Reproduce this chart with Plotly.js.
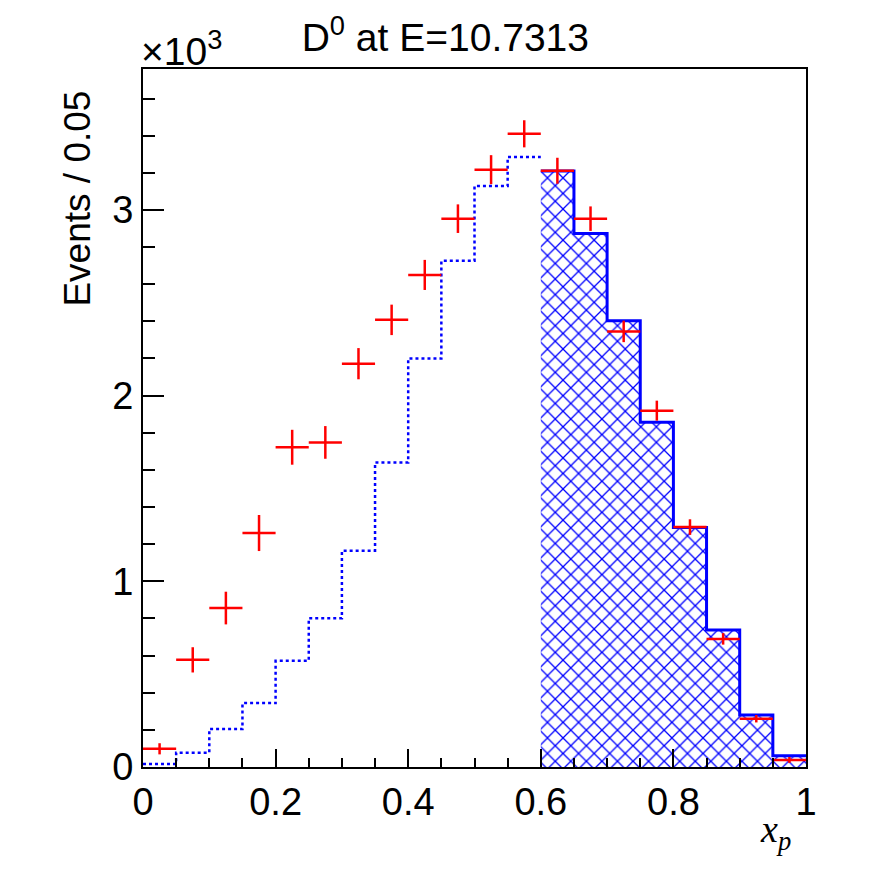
<!DOCTYPE html>
<html>
<head>
<meta charset="utf-8">
<script src="https://cdn.plot.ly/plotly-3.0.1.min.js"></script>
<style>html,body{margin:0;padding:0;background:#fff;}#plot{width:896px;height:872px;}</style>
</head>
<body>
<div id="plot"></div>
<script>
// ---- data ----
const binWidth = 0.05;
const dataCenters = [0.025,0.075,0.125,0.175,0.225,0.275,0.325,0.375,0.425,0.475,0.525,0.575,0.625,0.675,0.725,0.775,0.825,0.875,0.925,0.975];
const dataValues  = [98,577,856,1260,1722,1748,2172,2408,2650,2953,3217,3410,3211,2953,2346,1919,1292,690,260,38];
const dataErrors  = [30,68,88,97,94,88,84,82,81,77,78,73,70,66,58,54,42,31,20,16];

const mcLowStart = 0.0;
const mcLowValues  = [16,77,204,344,572,801,1165,1640,2200,2726,3129,3285];
const mcHighStart = 0.6;
const mcHighValues = [3210,2873,2403,1857,1290,738,280,61];

const yTickVals = [0,1000,2000,3000];
const yTickText = ['0','1','2','3'];
const xTickVals = [0,0.2,0.4,0.6,0.8,1];
const xTickText = ['0','0.2','0.4','0.6','0.8','1'];

// build step curves from bin contents
function stepCurve(start, vals){
  const xs = [], ys = [];
  for (let i = 0; i < vals.length; i++){ xs.push(+(start + i*binWidth).toFixed(4)); ys.push(vals[i]); }
  xs.push(+(start + vals.length*binWidth).toFixed(4)); ys.push(vals[vals.length-1]);
  return {xs, ys};
}
const low = stepCurve(mcLowStart, mcLowValues);
const high = stepCurve(mcHighStart, mcHighValues);

const traces = [
  {
    x: low.xs, y: low.ys, type:'scatter', mode:'lines',
    line:{shape:'hv', color:'#0000ff', width:2.5, dash:'dot'},
    hoverinfo:'skip', showlegend:false
  },
  {
    x: high.xs, y: high.ys, type:'scatter', mode:'lines',
    line:{shape:'hv', color:'#0000ff', width:3},
    fill:'tozeroy', fillcolor:'rgba(0,0,0,0)',
    fillpattern:{shape:'x', fgcolor:'#0000ff', bgcolor:'#ffffff', size:11, solidity:0.22},
    hoverinfo:'skip', showlegend:false
  },
  {
    x: dataCenters, y: dataValues, type:'scatter', mode:'markers',
    marker:{size:1, color:'#ff0000'},
    error_x:{type:'constant', value:binWidth/2, width:0, thickness:2.5, color:'#ff0000'},
    error_y:{type:'data', array:dataErrors, width:0, thickness:2.5, color:'#ff0000'},
    showlegend:false
  }
];

const font = 'Liberation Sans, Arial, Helvetica, sans-serif';
const layout = {
  width:896, height:872,
  margin:{l:143, r:90, t:69, b:105},
  paper_bgcolor:'#ffffff', plot_bgcolor:'#ffffff',
  showlegend:false,
  font:{family:font, color:'#000', size:38},
  title:{text:'D<sup>0</sup> at E=10.7313', font:{family:font, size:39, color:'#000'},
         xref:'paper', x:0.456, xanchor:'center', yref:'container', y:0.957, yanchor:'middle'},
  xaxis:{
    range:[0,1], showgrid:false, zeroline:false,
    showline:true, mirror:true, linecolor:'#000', linewidth:2,
    ticks:'inside', ticklen:18, tickwidth:2, tickcolor:'#000',
    tickvals:xTickVals, ticktext:xTickText,
    tickfont:{family:font, size:38, color:'#000'},
    minor:{ticks:'inside', ticklen:9, tickwidth:2, tickcolor:'#000', dtick:0.05, tick0:0, showgrid:false}
  },
  yaxis:{
    range:[0,3759], showgrid:false, zeroline:false,
    showline:true, mirror:true, linecolor:'#000', linewidth:2,
    ticks:'inside', ticklen:21, tickwidth:2, tickcolor:'#000',
    tickvals:yTickVals, ticktext:yTickText,
    tickfont:{family:font, size:38, color:'#000'},
    minor:{ticks:'inside', ticklen:12, tickwidth:2, tickcolor:'#000', dtick:200, tick0:0, showgrid:false}
  },
  annotations:[
    {text:'Events / 0.05', textangle:-90, xref:'paper', yref:'paper', x:-0.098, y:0.972,
     xanchor:'center', yanchor:'top', showarrow:false, font:{family:font, size:37, color:'#000'}},
    {text:'×10<sup>3</sup>', xref:'paper', yref:'paper', x:-0.006, y:0.992,
     xanchor:'left', yanchor:'bottom', showarrow:false, font:{family:font, size:39, color:'#000'}},
    {text:'<i>x</i><sub><i>p</i></sub>', xref:'paper', yref:'paper', x:0.98, y:-0.093,
     xanchor:'right', yanchor:'middle', showarrow:false, font:{family:'Liberation Serif, Times New Roman, serif', size:38, color:'#000'}}
  ]
};

Plotly.newPlot('plot', traces, layout, {staticPlot:true, displayModeBar:false});
</script>
</body>
</html>
